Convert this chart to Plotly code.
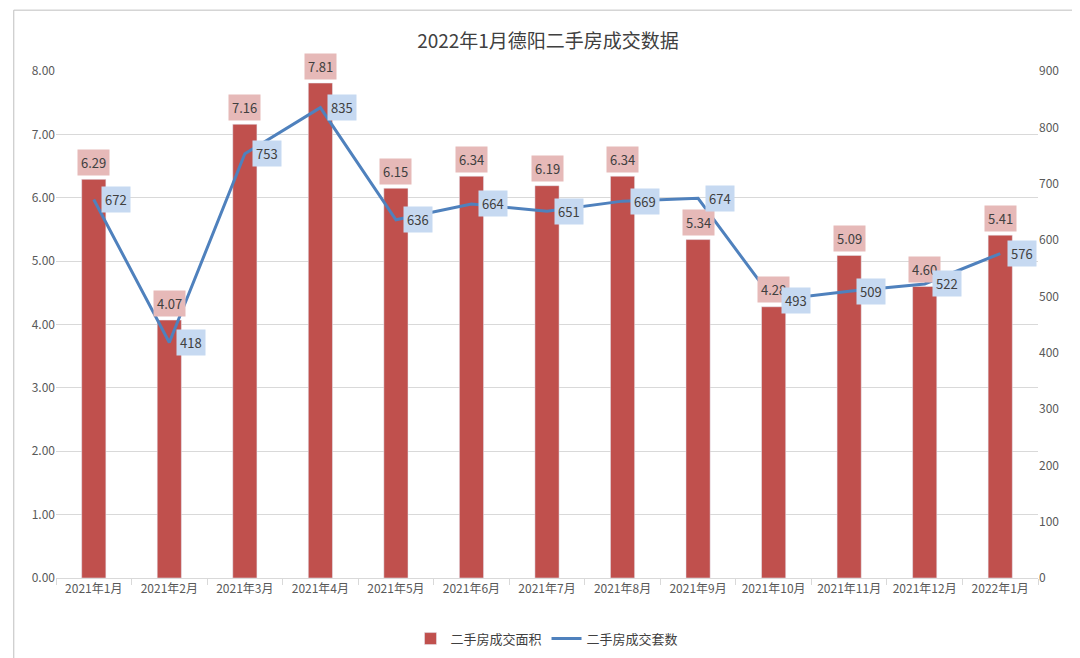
import plotly.graph_objects as go

months = ["2021年1月","2021年2月","2021年3月","2021年4月","2021年5月","2021年6月","2021年7月",
          "2021年8月","2021年9月","2021年10月","2021年11月","2021年12月","2022年1月"]
area = [6.29,4.07,7.16,7.81,6.15,6.34,6.19,6.34,5.34,4.28,5.09,4.60,5.41]
units = [672,418,753,835,636,664,651,669,674,493,509,522,576]

fig = go.Figure()
fig.add_trace(go.Bar(x=months, y=area, name="二手房成交面积", marker_color="#C0504D", width=0.32))
fig.add_trace(go.Scatter(x=months, y=units, name="二手房成交套数", yaxis="y2", mode="lines",
                         line=dict(color="#4F81BD", width=3)))
ann = []
for m, a in zip(months, area):
    ann.append(dict(x=m, y=a, xref="x", yref="y", text=f"{a:.2f}", showarrow=False, yshift=17,
                    bgcolor="#E6B9B8", font=dict(size=13, color="#404040"), borderpad=3))
for m, u in zip(months, units):
    ann.append(dict(x=m, y=u, xref="x", yref="y2", text=str(u), showarrow=False, xshift=22,
                    bgcolor="#C6D9F1", font=dict(size=13, color="#404040"), borderpad=3))
fig.update_layout(
    width=1080, height=658, plot_bgcolor="white", paper_bgcolor="white",
    font=dict(family="Noto Sans CJK SC", color="#595959", size=12),
    title=dict(text="2022年1月德阳二手房成交数据", x=0.5, y=0.96, xanchor="center",
               font=dict(size=19, color="#404040")),
    margin=dict(l=48, r=50, t=63, b=78),
    bargap=0.6,
    xaxis=dict(showline=True, linecolor="#D9D9D9", ticks="outside", tickcolor="#D9D9D9",
               tickson="boundaries", ticklen=6, tickfont=dict(size=12)),
    yaxis=dict(range=[0, 8], dtick=1, tickformat=".2f", gridcolor="#D9D9D9", zeroline=False,
               tickfont=dict(size=12)),
    yaxis2=dict(range=[0, 900], dtick=100, overlaying="y", side="right", showgrid=False,
                zeroline=False, tickfont=dict(size=12)),
    legend=dict(orientation="h", x=0.5, xanchor="center", y=-0.09, yanchor="top",
                font=dict(size=13, color="#404040")),
    annotations=ann,
    shapes=[dict(type="rect", xref="paper", yref="paper", x0=-0.043, x1=1.045, y0=-0.16, y1=1.12,
                 line=dict(color="#BFBFBF", width=1))],
)
fig.write_html("out.html")
